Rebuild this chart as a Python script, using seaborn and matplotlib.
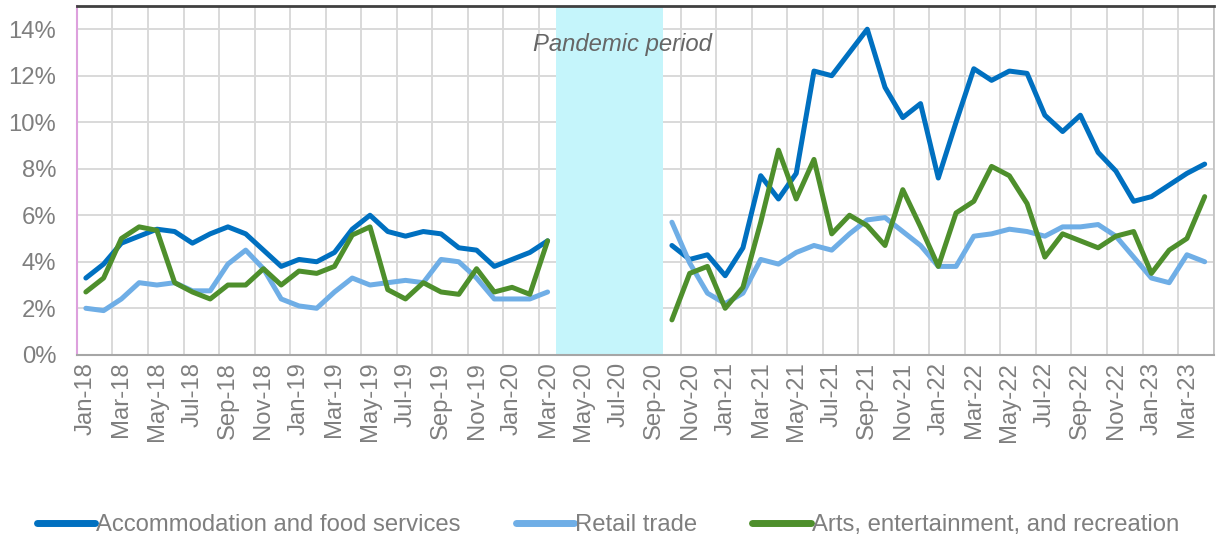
import numpy as np
import pandas as pd
import matplotlib
matplotlib.use("Agg")
import matplotlib.pyplot as plt
from matplotlib.ticker import FuncFormatter
import seaborn as sns

# monthly rates (%), Jan-18 .. Apr-23; None = no data (pandemic gap Apr-20..Sep-20)
months = pd.date_range("2018-01-01", periods=64, freq="MS").strftime("%b-%y").tolist()
gap = [None] * 6

accommodation = [3.3, 3.9, 4.8, 5.1, 5.4, 5.3, 4.8, 5.2, 5.5, 5.2, 4.5, 3.8, 4.1, 4.0,
                 4.4, 5.4, 6.0, 5.3, 5.1, 5.3, 5.2, 4.6, 4.5, 3.8, 4.1, 4.4, 4.9] + gap + \
                [4.7, 4.1, 4.3, 3.4, 4.6, 7.7, 6.7, 7.8, 12.2, 12.0, 13.0, 14.0, 11.5, 10.2,
                 10.8, 7.6, 10.0, 12.3, 11.8, 12.2, 12.1, 10.3, 9.6, 10.3, 8.7, 7.9, 6.6,
                 6.8, 7.3, 7.8, 8.2]
retail = [2.0, 1.9, 2.4, 3.1, 3.0, 3.1, 2.75, 2.75, 3.9, 4.5, 3.7, 2.4, 2.1, 2.0,
          2.7, 3.3, 3.0, 3.1, 3.2, 3.1, 4.1, 4.0, 3.3, 2.4, 2.4, 2.4, 2.7] + gap + \
         [5.7, 3.95, 2.65, 2.2, 2.65, 4.1, 3.9, 4.4, 4.7, 4.5, 5.2, 5.8, 5.9, 5.3,
          4.7, 3.8, 3.8, 5.1, 5.2, 5.4, 5.3, 5.1, 5.5, 5.5, 5.6, 5.1, 4.2, 3.3,
          3.1, 4.3, 4.0]
arts = [2.7, 3.3, 5.0, 5.5, 5.35, 3.1, 2.7, 2.4, 3.0, 3.0, 3.7, 3.0, 3.6, 3.5,
        3.8, 5.15, 5.5, 2.8, 2.4, 3.1, 2.7, 2.6, 3.7, 2.7, 2.9, 2.6, 4.9] + gap + \
       [1.5, 3.5, 3.8, 2.0, 2.9, 5.7, 8.8, 6.7, 8.4, 5.2, 6.0, 5.55, 4.7, 7.1,
        5.5, 3.8, 6.1, 6.6, 8.1, 7.7, 6.5, 4.2, 5.2, 4.9, 4.6, 5.1, 5.3, 3.5,
        4.5, 5.0, 6.8]

series_names = ["Accommodation and food services", "Retail trade",
                "Arts, entertainment, and recreation"]
colors = ["#0070C0", "#6FAEE6", "#4E8F2C"]
pandemic_start, pandemic_end = "Apr-20", "Sep-20"

frames = []
for name, vals in zip(series_names, [accommodation, retail, arts]):
    frames.append(pd.DataFrame({"month": months, "idx": range(len(months)),
                                "value": vals, "series": name}))
df = pd.concat(frames, ignore_index=True).dropna()
df["value"] = df["value"].astype(float)
# separate line pieces before / after the gap
df["segment"] = (df["idx"] > months.index(pandemic_start)).astype(int)

sns.set_theme(style="white")
plt.rcParams["font.family"] = ["Liberation Sans", "DejaVu Sans"]
grey = "#7F7F7F"
fs = 17.2

fig, ax = plt.subplots(figsize=(12.16, 5.4), dpi=100)
fig.subplots_adjust(left=0.0633, right=0.998, top=0.989, bottom=0.343)

ax.axvspan(months.index(pandemic_start) - 0.5, months.index(pandemic_end) + 0.5,
           color="#C5F5FB", zorder=1, lw=0)

sns.lineplot(data=df, x="idx", y="value", hue="series", units="segment",
             estimator=None, hue_order=series_names, palette=colors,
             linewidth=3.6, ax=ax, zorder=3, solid_capstyle="round")

ax.text(months.index("Jul-20") + 0.2, 13.35, "Pandemic period", style="italic",
        color="#666666", fontsize=fs, ha="center", va="center", zorder=4)

ax.set_xlim(-0.5, len(months) - 0.5)
ax.set_ylim(0, 15)
ax.set_yticks(np.arange(0, 15, 2))
ax.yaxis.set_major_formatter(FuncFormatter(lambda v, p: f"{v:.0f}%"))
ax.set_xticks(range(0, len(months), 2))
ax.set_xticklabels(months[::2], rotation=90)
ax.set_xticks(np.arange(-0.5, len(months), 2), minor=True)
ax.tick_params(axis="y", length=0, pad=15, labelsize=fs, labelcolor=grey)
ax.tick_params(axis="x", which="major", length=0, pad=5, labelsize=fs, labelcolor=grey)
ax.tick_params(axis="x", which="minor", length=0)

ax.grid(False)
ax.yaxis.grid(True, color="#D9D9D9", lw=1.4, zorder=0)
ax.xaxis.grid(True, which="minor", color="#D9D9D9", lw=1.4, zorder=0)
ax.set_axisbelow(True)
ax.set_xlabel("")
ax.set_ylabel("")

ax.spines["top"].set_color("#404040")
ax.spines["top"].set_linewidth(2)
ax.spines["left"].set_color("#DDA0DD")
ax.spines["left"].set_linewidth(1.5)
ax.spines["bottom"].set_color("#A6A6A6")
ax.spines["bottom"].set_linewidth(1.5)
ax.spines["right"].set_color("#BFBFBF")
ax.spines["right"].set_linewidth(1.2)

sns.move_legend(ax, "center", bbox_to_anchor=(0.5, 0.028),
                bbox_transform=fig.transFigure, ncol=3, frameon=False, title=None,
                fontsize=fs, handlelength=2.45, handletextpad=0.05, columnspacing=2.3)
for t in ax.get_legend().get_texts():
    t.set_color(grey)
for h in ax.get_legend().get_lines():
    h.set_linewidth(5)
    h.set_solid_capstyle("round")

fig.savefig("out.png", dpi=100)
